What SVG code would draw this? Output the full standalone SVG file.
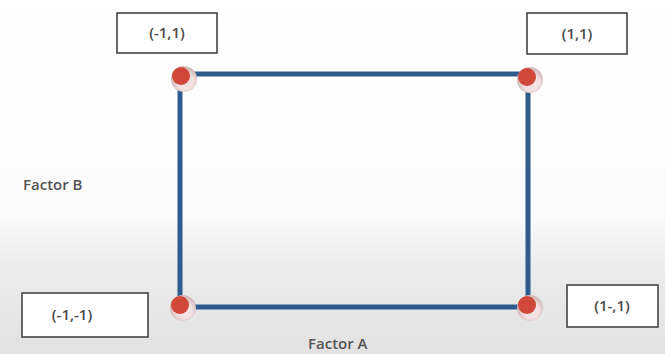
<svg xmlns="http://www.w3.org/2000/svg" width="665" height="354" viewBox="0 0 665 354">
<defs>
<linearGradient id="bg" x1="0" y1="0" x2="0" y2="1">
<stop offset="0" stop-color="#ffffff"/>
<stop offset="0.6" stop-color="#fbfbfb"/>
<stop offset="0.75" stop-color="#ececec"/>
<stop offset="1" stop-color="#e2e2e2"/>
</linearGradient>
<radialGradient id="halo" cx="0.55" cy="0.6" r="0.5">
<stop offset="0.6" stop-color="#f3e2e2"/>
<stop offset="1" stop-color="#d6bcbc"/>
</radialGradient>
</defs>
<style>
.box{fill:#ffffff;stroke:#444444;stroke-width:1.6}
.lbl{font-family:"Open Sans","DejaVu Sans",sans-serif;font-size:15px;font-weight:600;fill:#4a4a4a;text-anchor:middle}
.axis{font-family:"Open Sans","DejaVu Sans",sans-serif;font-size:15px;font-weight:600;fill:#555555}
.edge{stroke:#2f5b8e;stroke-width:5;fill:none}
.dot{fill:#d1473a}
</style>
<rect width="665" height="354" fill="url(#bg)"/>
<g id="connectors">
<line class="edge" x1="182" y1="74" x2="528" y2="74"/>
<line class="edge" x1="180" y1="76" x2="180" y2="307"/>
<line class="edge" x1="180" y1="307" x2="528" y2="307"/>
<line class="edge" x1="528" y1="76" x2="528" y2="307"/>
</g>
<g id="n1">
<rect class="box" x="117" y="13" width="100" height="40"/>
<text class="lbl" x="167" y="38">(-1,1)</text>
<circle cx="184" cy="79" r="13" fill="url(#halo)"/>
<circle class="dot" cx="181" cy="76" r="9"/>
</g>
<g id="n2">
<rect class="box" x="527" y="13" width="100" height="41"/>
<text class="lbl" x="577" y="39">(1,1)</text>
<circle cx="530" cy="80" r="13" fill="url(#halo)"/>
<circle class="dot" cx="527" cy="77" r="9"/>
</g>
<g id="n3">
<rect class="box" x="22" y="293" width="126" height="44"/>
<text class="lbl" x="72" y="320">(-1,-1)</text>
<circle cx="183" cy="308" r="13" fill="url(#halo)"/>
<circle class="dot" cx="180" cy="305" r="9"/>
</g>
<g id="n4">
<rect class="box" x="567" y="285" width="91" height="42"/>
<text class="lbl" x="612" y="311">(1-,1)</text>
<circle cx="530" cy="308" r="13" fill="url(#halo)"/>
<circle class="dot" cx="527" cy="305" r="9"/>
</g>
<g id="labels">
<text class="axis" x="23" y="190">Factor B</text>
<text class="axis" x="308" y="349">Factor A</text>
</g>
</svg>
